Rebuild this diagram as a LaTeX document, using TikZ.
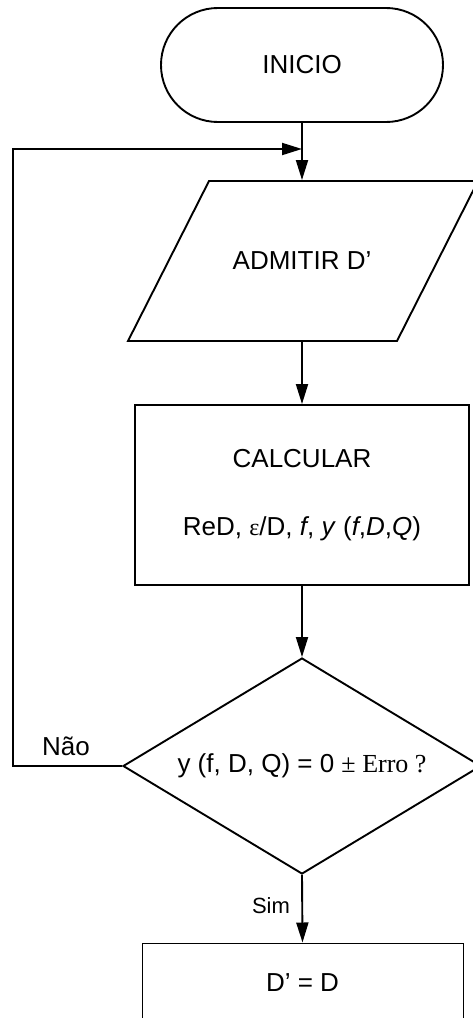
\documentclass[tikz,border=0pt]{standalone}
\usepackage{fontspec}
\setmainfont{Liberation Sans}
\newfontfamily\seriffont{Liberation Serif}
\usetikzlibrary{shapes.geometric,arrows.meta}
\begin{document}
\begin{tikzpicture}[x=1pt,y=-1pt,
  line width=1.9pt,
  every node/.style={font=\fontsize{26}{30}\selectfont, inner sep=0pt},
  conn/.style={-{Triangle[length=20pt,width=12pt]}},
  box/.style={draw, line width=1.9pt}]
\useasboundingbox (0,0) rectangle (473,1018);
\clip (0,0) rectangle (473,1018);

% INICIO terminal
\node[box, rounded corners=56.9pt, minimum width=282pt, minimum height=114pt] (start) at (302,65) {INICIO};

% parallelogram
\draw[line join=miter] (209,181) -- (478,181) -- (397,341) -- (128,341) -- cycle;
\node[minimum width=160pt, minimum height=160pt] (adm) at (302,261) {ADMITIR D’};

% process box
\node[box, minimum width=334pt, minimum height=180pt, align=center,
      font=\fontsize{26}{68}\selectfont] (calc) at (302,495)
  {CALCULAR\\ReD, {\seriffont\fontsize{24}{68}\selectfont ε}/D, \textit{f}, \textit{y} (\textit{f},\textit{D},\textit{Q})};

% decision diamond
\node[box, diamond, minimum width=358pt, minimum height=216pt, aspect=1.657] (dec) at (302,766)
  {y (f, D, Q) = 0 {\seriffont ± Erro ?}};

% final box
\node[draw, line width=1pt, minimum width=321pt, minimum height=80pt] (fin) at (302.5,983) {D’ = D};

% connectors
\coordinate (j) at (302,149);
\coordinate (lb) at (13,766);
\coordinate (lt) at (13,149);
\draw[conn] (start.south) -- (adm.north);
\draw[conn] (dec.west) -- (lb) -- (lt) -- (j);
\draw[conn] (adm.south) -- (calc.north);
\draw[conn] (calc.south) -- (dec.north);
\draw[conn] (dec.south) -- (fin.north);

% labels
\node (nao) at (66,746) {Não};
\node[font=\fontsize{22}{26}\selectfont] (sim) at (271,906) {Sim};
\end{tikzpicture}
\end{document}
